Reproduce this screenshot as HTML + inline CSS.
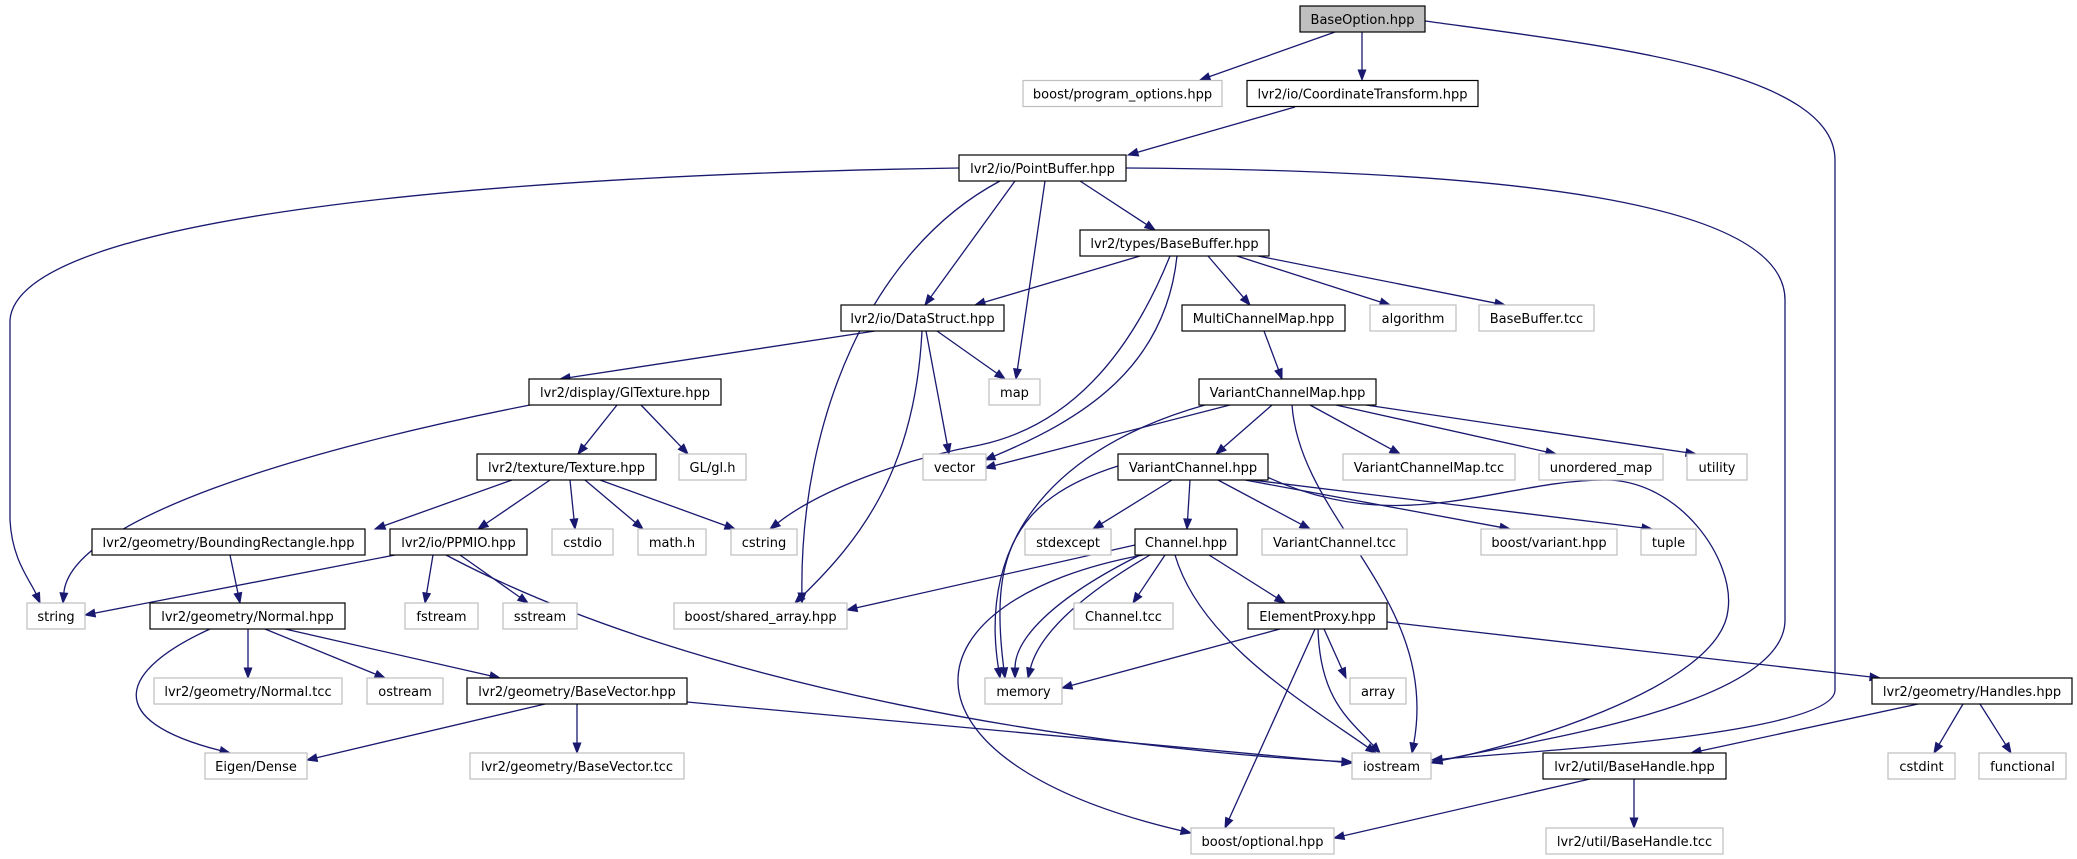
<!DOCTYPE html>
<html><head><meta charset="utf-8"><style>
html,body{margin:0;padding:0;background:#fff;}
svg{display:block;}
text{font-family:"DejaVu Sans","Liberation Sans",sans-serif;font-size:13px;fill:#000;text-anchor:middle;}
.b{fill:#fff;stroke:#000;stroke-width:1.2}
.g{fill:#fff;stroke:#bfbfbf;stroke-width:1.2}
.e{fill:none;stroke:#191970;stroke-width:1.3}
.a{fill:#191970;stroke:#191970;stroke-width:1}
</style></head><body>
<svg id="s" width="2077" height="859" viewBox="0 0 2077 859" xmlns="http://www.w3.org/2000/svg">
<g id="edges"></g>
<g id="nodes">
<rect x="1300" y="6" width="125" height="26" style="fill:#bfbfbf;stroke:#000;stroke-width:1.2"/><text x="1362.5" y="24">BaseOption.hpp</text>
<rect class="g" x="1023" y="80.5" width="199" height="26"/><text x="1122.5" y="98.5">boost/program_options.hpp</text>
<rect class="b" x="1247" y="80.5" width="231" height="26"/><text x="1362.5" y="98.5">lvr2/io/CoordinateTransform.hpp</text>
<rect class="b" x="959" y="155" width="167" height="26"/><text x="1042.5" y="173">lvr2/io/PointBuffer.hpp</text>
<rect class="b" x="1080" y="230" width="189" height="26"/><text x="1174.5" y="248">lvr2/types/BaseBuffer.hpp</text>
<rect class="b" x="841" y="305" width="163" height="26"/><text x="922.5" y="323">lvr2/io/DataStruct.hpp</text>
<rect class="b" x="1182" y="305" width="163" height="26"/><text x="1263.5" y="323">MultiChannelMap.hpp</text>
<rect class="g" x="1370" y="305" width="86" height="26"/><text x="1413" y="323">algorithm</text>
<rect class="g" x="1479" y="305" width="115" height="26"/><text x="1536.5" y="323">BaseBuffer.tcc</text>
<rect class="b" x="529" y="379" width="192" height="26"/><text x="625" y="397">lvr2/display/GlTexture.hpp</text>
<rect class="g" x="989" y="379" width="51" height="26"/><text x="1014.5" y="397">map</text>
<rect class="b" x="1199" y="379" width="177" height="26"/><text x="1287.5" y="397">VariantChannelMap.hpp</text>
<rect class="b" x="477" y="454" width="179" height="26"/><text x="566.5" y="472">lvr2/texture/Texture.hpp</text>
<rect class="g" x="679" y="454" width="67" height="26"/><text x="712.5" y="472">GL/gl.h</text>
<rect class="g" x="923" y="454" width="63" height="26"/><text x="954.5" y="472">vector</text>
<rect class="b" x="1118" y="454" width="150" height="26"/><text x="1193" y="472">VariantChannel.hpp</text>
<rect class="g" x="1343" y="454" width="172" height="26"/><text x="1429" y="472">VariantChannelMap.tcc</text>
<rect class="g" x="1539" y="454" width="124" height="26"/><text x="1601" y="472">unordered_map</text>
<rect class="g" x="1687" y="454" width="60" height="26"/><text x="1717" y="472">utility</text>
<rect class="b" x="92" y="529" width="273" height="26"/><text x="228.5" y="547">lvr2/geometry/BoundingRectangle.hpp</text>
<rect class="b" x="390" y="529" width="137" height="26"/><text x="458.5" y="547">lvr2/io/PPMIO.hpp</text>
<rect class="g" x="552" y="529" width="61" height="26"/><text x="582.5" y="547">cstdio</text>
<rect class="g" x="638" y="529" width="68" height="26"/><text x="672" y="547">math.h</text>
<rect class="g" x="731" y="529" width="66" height="26"/><text x="764" y="547">cstring</text>
<rect class="g" x="1025" y="529" width="86" height="26"/><text x="1068" y="547">stdexcept</text>
<rect class="b" x="1135" y="529" width="102" height="26"/><text x="1186" y="547">Channel.hpp</text>
<rect class="g" x="1262" y="529" width="145" height="26"/><text x="1334.5" y="547">VariantChannel.tcc</text>
<rect class="g" x="1481" y="529" width="136" height="26"/><text x="1549" y="547">boost/variant.hpp</text>
<rect class="g" x="1641" y="529" width="55" height="26"/><text x="1668.5" y="547">tuple</text>
<rect class="g" x="27" y="603" width="58" height="26"/><text x="56" y="621">string</text>
<rect class="b" x="150" y="603" width="195" height="26"/><text x="247.5" y="621">lvr2/geometry/Normal.hpp</text>
<rect class="g" x="405" y="603" width="73" height="26"/><text x="441.5" y="621">fstream</text>
<rect class="g" x="503" y="603" width="74" height="26"/><text x="540" y="621">sstream</text>
<rect class="g" x="674" y="603" width="173" height="26"/><text x="760.5" y="621">boost/shared_array.hpp</text>
<rect class="g" x="1074" y="603" width="99" height="26"/><text x="1123.5" y="621">Channel.tcc</text>
<rect class="b" x="1248" y="603" width="139" height="26"/><text x="1317.5" y="621">ElementProxy.hpp</text>
<rect class="g" x="154" y="678" width="188" height="26"/><text x="248" y="696">lvr2/geometry/Normal.tcc</text>
<rect class="g" x="367" y="678" width="76" height="26"/><text x="405" y="696">ostream</text>
<rect class="b" x="467" y="678" width="220" height="26"/><text x="577" y="696">lvr2/geometry/BaseVector.hpp</text>
<rect class="g" x="985" y="678" width="77" height="26"/><text x="1023.5" y="696">memory</text>
<rect class="g" x="1350" y="678" width="56" height="26"/><text x="1378" y="696">array</text>
<rect class="b" x="1872" y="678" width="200" height="26"/><text x="1972" y="696">lvr2/geometry/Handles.hpp</text>
<rect class="g" x="205" y="753" width="102" height="26"/><text x="256" y="771">Eigen/Dense</text>
<rect class="g" x="470" y="753" width="214" height="26"/><text x="577" y="771">lvr2/geometry/BaseVector.tcc</text>
<rect class="g" x="1352" y="753" width="79" height="26"/><text x="1391.5" y="771">iostream</text>
<rect class="b" x="1543" y="753" width="183" height="26"/><text x="1634.5" y="771">lvr2/util/BaseHandle.hpp</text>
<rect class="g" x="1888" y="753" width="67" height="26"/><text x="1921.5" y="771">cstdint</text>
<rect class="g" x="1979" y="753" width="87" height="26"/><text x="2022.5" y="771">functional</text>
<rect class="g" x="1191" y="828" width="143" height="26"/><text x="1262.5" y="846">boost/optional.hpp</text>
<rect class="g" x="1546" y="828" width="177" height="26"/><text x="1634.5" y="846">lvr2/util/BaseHandle.tcc</text>
</g>
</svg>
<script>
var E=[
[1335,32,1200,80],[1362,32,1362,80],
[1425,21,'C',1600,45,1835,70,1835,160,'L',1835,690,'C',1835,735,1520,752,1432,760],
[1295,107,1128,155],
[959,168,'C',500,175,18,215,10,320,'L',10,520,'C',12,560,30,580,40,603],
[1126,168,'C',1500,170,1785,200,1785,300,'L',1785,620,'C',1785,710,1500,745,1432,763],
[1000,181,'C',870,250,800,420,802,603],
[1015,181,925,305],[1045,181,1016,379],[1080,181,1155,230],
[1140,256,975,305],
[1170,256,'C',1120,380,1050,430,980,445,'C',900,460,820,490,770,529],
[1177,256,'C',1165,370,1080,420,985,460],
[1208,256,1250,305],[1237,256,1390,305],[1258,256,1505,305],
[875,331,560,379],[937,331,1005,379],[926,331,949,454],
[922,331,'C',915,470,860,540,795,603],
[530,405,'C',300,450,70,520,63,603],
[617,405,578,454],[641,405,688,454],
[512,480,375,529],[550,480,478,529],[570,480,575,529],[585,480,643,529],[600,480,735,529],
[1264,331,1282,379],
[1230,405,985,468],
[1205,405,'C',1080,440,975,520,1000,678],
[1272,405,1216,454],
[1292,405,'C',1300,520,1440,600,1412,753],
[1310,405,1400,454],[1336,405,1556,454],[1366,405,1696,454],
[1118,466,'C',1010,500,990,560,1005,678],
[1172,480,1093,529],[1190,480,1187,529],[1218,480,1310,529],[1245,480,1510,529],[1252,480,1652,529],
[1265,476,'C',1400,540,1500,480,1605,480,'C',1680,480,1735,560,1728,610,'C',1720,690,1500,750,1432,762],
[1135,545,847,610],
[1150,555,'C',1090,590,1040,630,1028,678],
[1140,555,'C',1050,600,1015,640,1015,678],
[1165,555,1133,603],[1209,555,1285,603],
[1175,555,'C',1200,640,1300,700,1376,753],
[1143,555,'C',900,600,880,760,1191,833],
[1315,629,1225,828],[1318,629,'C',1320,700,1350,720,1380,753],[1324,629,1346,678],[1280,629,1062,688],
[1387,622,1880,678],
[230,555,240,603],
[446,555,'C',700,690,1100,750,1352,762],
[395,555,85,615],[433,555,425,603],[460,555,528,603],
[210,629,'C',120,670,100,720,230,753],[248,629,248,678],[265,629,385,678],[285,629,500,678],
[545,704,307,760],[577,704,577,753],
[687,702,1352,763],
[1918,704,1691,753],[1963,704,1934,753],[1980,704,2011,753],
[1590,779,1334,838],[1634,779,1634,828]
];
function arrow(x1,y1,x2,y2){var dx=x2-x1,dy=y2-y1,l=Math.hypot(dx,dy)||1;dx/=l;dy/=l;var L=10,W=3.8;
var bx=x2-dx*L,by=y2-dy*L;return [bx,by,'M'+x2+','+y2+' L'+(bx-dy*W)+','+(by+dx*W)+' L'+(bx+dy*W)+','+(by-dx*W)+' Z'];}
var g=document.getElementById('edges'),h='';
E.forEach(function(e){var d,px,py,ex,ey;
 if(e.length===4){ex=e[2];ey=e[3];px=e[0];py=e[1];var a=arrow(px,py,ex,ey);d='M'+e[0]+','+e[1]+' L'+a[0]+','+a[1];h+='<path class="e" d="'+d+'"/><path class="a" d="'+a[2]+'"/>';return;}
 d='M'+e[0]+','+e[1];var i=2,lx=e[0],ly=e[1],segs=[];
 while(i<e.length){var c=e[i];if(c==='C'){segs.push(['C',e.slice(i+1,i+7)]);i+=7;}else{segs.push(['L',e.slice(i+1,i+3)]);i+=3;}}
 var last=segs[segs.length-1],v=last[1];ex=v[v.length-2];ey=v[v.length-1];
 if(last[0]==='C'){px=v[2];py=v[3];}else{if(segs.length>1){var p=segs[segs.length-2][1];px=p[p.length-2];py=p[p.length-1];}else{px=lx;py=ly;}}
 var a=arrow(px,py,ex,ey);v[v.length-2]=a[0];v[v.length-1]=a[1];
 segs.forEach(function(s){d+=' '+s[0]+s[1].join(',');});
 h+='<path class="e" d="'+d+'"/><path class="a" d="'+a[2]+'"/>';
});
g.innerHTML=h;
</script>
</body></html>
